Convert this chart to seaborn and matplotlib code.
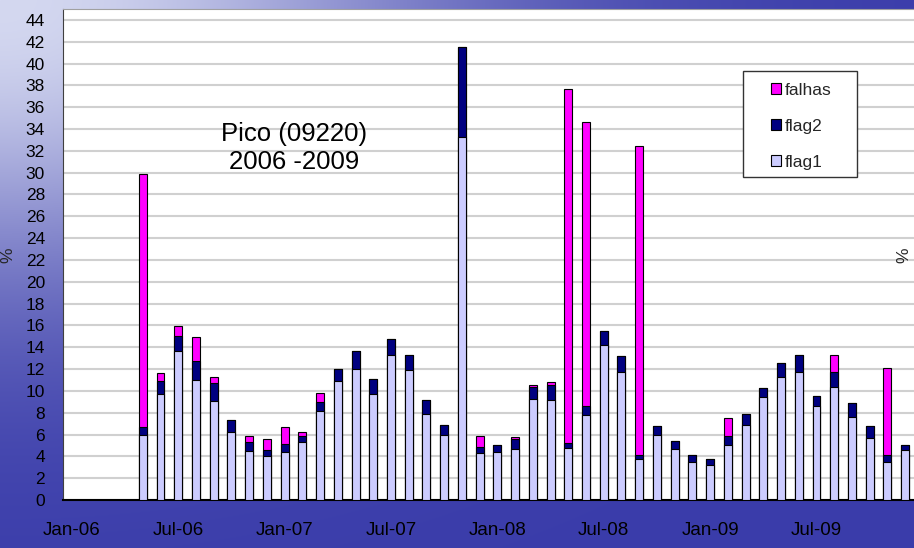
import matplotlib
matplotlib.use("Agg")
import matplotlib.pyplot as plt
import matplotlib.patches as mpatches
import seaborn as sns
import numpy as np
import pandas as pd

# monthly data, Jan-06 .. Dec-09 (values in %)
months = list(pd.date_range("2006-01-01", periods=48, freq="MS").strftime("%b-%y"))
nan = np.nan

flag1 = [nan, nan, nan, nan, 6.0, 9.75, 13.7, 11.0, 9.1, 6.2, 4.5, 4.0,
         4.4, 5.3, 8.2, 10.9, 12.05, 9.75, 13.3, 11.9, 7.9, 6.0, 33.25, 4.3,
         4.4, 4.65, 9.3, 9.2, 4.75, 7.8, 14.2, 11.7, 3.75, 5.95, 4.65, 3.5,
         3.2, 5.05, 6.9, 9.4, 11.25, 11.7, 8.6, 10.4, 7.65, 5.7, 3.5, 4.6]
flag2 = [nan, nan, nan, nan, 0.7, 1.15, 1.35, 1.7, 1.6, 1.1, 0.8, 0.6,
         0.7, 0.6, 0.75, 1.1, 1.6, 1.35, 1.45, 1.35, 1.25, 0.85, 8.3, 0.6,
         0.65, 0.9, 1.05, 1.35, 0.5, 0.8, 1.3, 1.5, 0.4, 0.85, 0.8, 0.6,
         0.6, 0.85, 0.95, 0.9, 1.35, 1.6, 0.9, 1.35, 1.25, 1.05, 0.6, 0.4]
falhas = [nan, nan, nan, nan, 23.2, 0.75, 0.9, 2.2, 0.6, 0.0, 0.55, 0.95,
          1.55, 0.35, 0.85, 0.0, 0.0, 0.0, 0.0, 0.0, 0.0, 0.0, 0.0, 1.0,
          0.0, 0.2, 0.2, 0.25, 32.45, 26.0, 0.0, 0.0, 28.25, 0.0, 0.0, 0.0,
          0.0, 1.65, 0.0, 0.0, 0.0, 0.0, 0.0, 1.55, 0.0, 0.0, 8.0, 0.0]

series_names = ["falhas", "flag2", "flag1"]
colors = {"falhas": "#FF00FF", "flag2": "#000080", "flag1": "#CCCCFF"}

df = pd.DataFrame({"month": months, "flag1": flag1, "flag2": flag2, "falhas": falhas})
df["lvl_flag1"] = df["flag1"]
df["lvl_flag2"] = df["flag1"] + df["flag2"]
df["lvl_falhas"] = df["lvl_flag2"] + df["falhas"]

sns.set_style("white")
plt.rcParams["font.family"] = ["Liberation Sans", "DejaVu Sans"]

W, H = 914, 548
fig = plt.figure(figsize=(W / 100, H / 100), dpi=100)

# blue "water" background
ax_bg = fig.add_axes([0, 0, 1, 1])
yy, xx = np.mgrid[0:H, 0:W]
L = np.exp(-((xx / 450.0) ** 2 + (yy / 280.0) ** 2))[..., None]
dark = np.array([58, 60, 170]) / 255.0
light = np.array([212, 216, 240]) / 255.0
ax_bg.imshow(dark + L * (light - dark), aspect="auto", extent=[0, 1, 0, 1])
ax_bg.axis("off")

ax = fig.add_axes([63 / W, 48 / H, (W - 63) / W, (500 - 9) / H])
ax.set_zorder(1)
ax.set_facecolor("white")

# stacked look: draw cumulative totals from the top level down
for name in series_names:
    sns.barplot(data=df, x="month", y="lvl_" + name, order=months, color=colors[name],
                saturation=1, width=0.45, edgecolor="black", linewidth=0.8,
                errorbar=None, ax=ax, zorder=3)

ax.set_xlabel("")
ax.set_ylabel("")
ax.set_ylim(0, 45)
ax.set_xlim(-0.5, 47.44)
ax.set_yticks(np.arange(0, 45, 2))
ax.yaxis.grid(True, color="#d0d0d0", linewidth=1.5)
ax.set_axisbelow(True)

ax.set_xticks(range(0, 48, 6))
ax.set_xticklabels(months[::6])
ax.set_xticks(np.arange(-0.5, 48, 6), minor=True)
ax.tick_params(axis="x", which="major", length=0, pad=16, labelsize=13.5, labelcolor="black")
ax.tick_params(axis="x", which="minor", length=5, width=1, color="black", direction="out")
ax.tick_params(axis="y", length=5, width=1, color="#404040", direction="out",
               pad=8, labelsize=12.5, labelcolor="black")

ax.spines["right"].set_visible(False)
ax.spines["top"].set_color("#a0a0a0")
ax.spines["left"].set_color("#404040")
ax.spines["bottom"].set_color("black")
ax.spines["bottom"].set_linewidth(1.5)

fig.text(294 / W, 1 - 148 / H, "Pico (09220)\n2006 -2009", ha="center", va="center",
         fontsize=18.5, color="black", zorder=5)
fig.text(8 / W, 1 - 255 / H, "%", rotation=90, ha="center", va="center", fontsize=12.5)
fig.text(904 / W, 1 - 255 / H, "%", rotation=90, ha="center", va="center", fontsize=12.5,
         zorder=5)

# legend with its own frame
frame = mpatches.Rectangle((743 / W, 1 - 177 / H), 114 / W, 106 / H, transform=fig.transFigure,
                           facecolor="white", edgecolor="#333333", linewidth=1, zorder=4)
fig.add_artist(frame)
handles = [mpatches.Patch(facecolor=colors[n], edgecolor="black", linewidth=0.8, label=n)
           for n in series_names]
leg = fig.legend(handles=handles, loc="upper left", bbox_to_anchor=(771 / W, 1 - 83 / H),
                 frameon=False, borderpad=0, borderaxespad=0, handlelength=0.6,
                 handleheight=0.6, handletextpad=0.2, labelspacing=1.2, fontsize=12.5)
leg.set_zorder(6)

fig.savefig("out.png", dpi=100)
